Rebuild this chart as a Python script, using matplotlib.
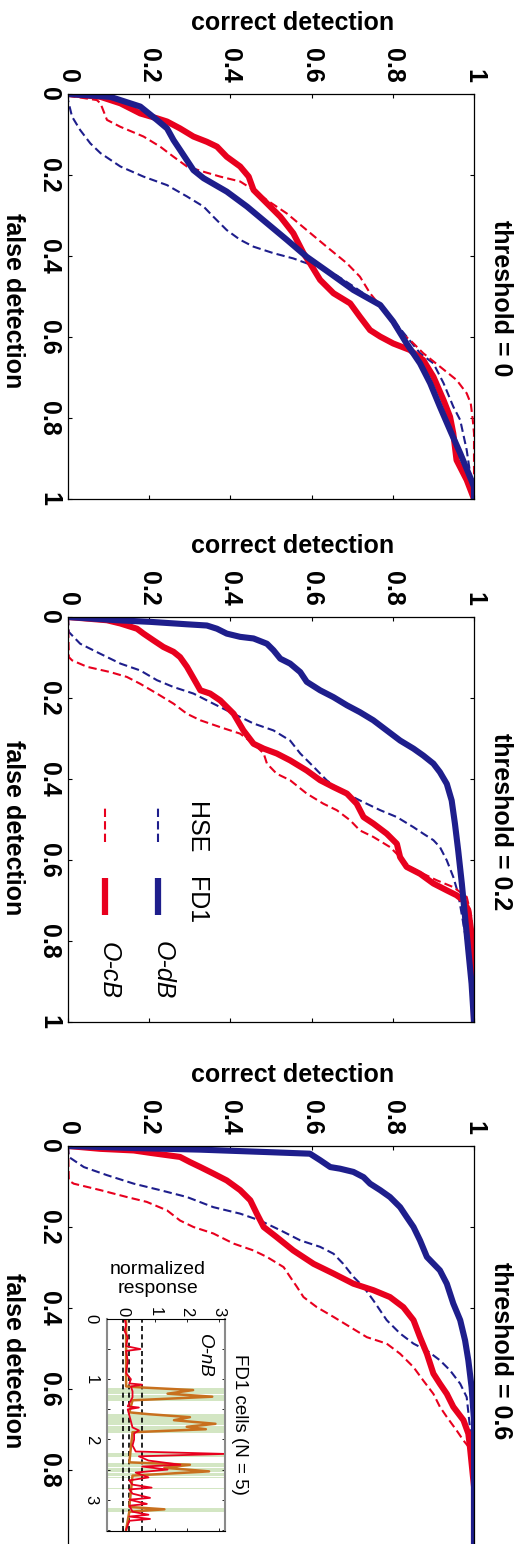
import numpy as np
import matplotlib.pyplot as plt

plt.rcParams['font.family'] = ['Liberation Sans', 'DejaVu Sans']

BLUE = '#1e1e8c'
RED = '#e8001e'
ORANGE = '#c8701e'
GREEN = '#d3e6c3'

################################################################################
# ROC data (false detection, correct detection), one panel per threshold
################################################################################
thresholds = ['0', '0.2', '0.6']

# threshold = 0
t0_fd1_odb_false = [0, 0.007, 0.031, 0.064, 0.085, 0.114, 0.138, 0.188, 0.208, 0.241, 0.278, 0.319, 0.360, 0.402, 0.443,
                    0.484, 0.521, 0.562, 0.616, 0.665, 0.714, 0.772, 0.830, 0.887, 0.945, 0.970, 1.0]
t0_fd1_odb_correct = [0, 0.104, 0.178, 0.219, 0.244, 0.260, 0.276, 0.309, 0.334, 0.391, 0.441, 0.490, 0.539, 0.588, 0.646,
                      0.703, 0.769, 0.801, 0.834, 0.867, 0.892, 0.916, 0.941, 0.966, 0.990, 1.0, 1.0]
t0_fd1_ocb_false = [0, 0.007, 0.023, 0.048, 0.060, 0.068, 0.085, 0.105, 0.118, 0.130, 0.155, 0.179, 0.204, 0.237, 0.270,
                    0.303, 0.344, 0.393, 0.418, 0.459, 0.492, 0.517, 0.550, 0.583, 0.599, 0.616, 0.632, 0.657, 0.698,
                    0.756, 0.797, 0.838, 0.904, 0.953, 1.0]
t0_fd1_ocb_correct = [0, 0.080, 0.129, 0.178, 0.219, 0.244, 0.276, 0.309, 0.342, 0.367, 0.391, 0.424, 0.445, 0.457, 0.490,
                      0.523, 0.555, 0.580, 0.596, 0.621, 0.654, 0.695, 0.719, 0.744, 0.769, 0.801, 0.842, 0.875, 0.900,
                      0.925, 0.941, 0.949, 0.957, 0.982, 1.0]
t0_hse_odb_false = [0, 0.015, 0.056, 0.089, 0.122, 0.146, 0.179, 0.204, 0.225, 0.253, 0.278, 0.303, 0.336, 0.360, 0.377,
                    0.393, 0.406, 0.418, 0.426, 0.443, 0.475, 0.509, 0.558, 0.599, 0.640, 0.665, 0.714, 0.772, 0.805,
                    0.879, 0.961, 1.0]
t0_hse_odb_correct = [0, 0, 0.010, 0.030, 0.055, 0.080, 0.129, 0.186, 0.244, 0.293, 0.334, 0.358, 0.391, 0.424, 0.457,
                      0.506, 0.555, 0.588, 0.621, 0.654, 0.703, 0.752, 0.801, 0.834, 0.867, 0.900, 0.925, 0.949, 0.966,
                      0.982, 0.994, 1.0]
t0_hse_ocb_false = [0, 0.005, 0.015, 0.023, 0.064, 0.081, 0.105, 0.130, 0.155, 0.179, 0.192, 0.204, 0.216, 0.237, 0.262,
                    0.295, 0.336, 0.377, 0.418, 0.451, 0.492, 0.533, 0.583, 0.607, 0.640, 0.673, 0.706, 0.739, 0.764,
                    0.805, 0.838, 1.0]
t0_hse_ocb_correct = [0, 0.006, 0.071, 0.080, 0.096, 0.129, 0.186, 0.227, 0.260, 0.293, 0.334, 0.375, 0.424, 0.457, 0.490,
                      0.539, 0.588, 0.637, 0.687, 0.719, 0.744, 0.777, 0.810, 0.842, 0.875, 0.916, 0.957, 0.982, 0.992,
                      0.997, 1.0, 1.0]

# threshold = 0.2
t2_fd1_odb_false = [0, 0.008, 0.012, 0.018, 0.021, 0.029, 0.041, 0.049, 0.053, 0.066, 0.082, 0.103, 0.115, 0.136, 0.160,
                    0.181, 0.198, 0.218, 0.235, 0.255, 0.280, 0.305, 0.325, 0.342, 0.362, 0.383, 0.412, 0.453, 0.510,
                    0.576, 0.658, 0.741, 0.823, 0.905, 1.0]
t2_fd1_odb_correct = [0, 0.121, 0.203, 0.293, 0.342, 0.367, 0.391, 0.424, 0.457, 0.490, 0.506, 0.523, 0.547, 0.572, 0.588,
                      0.621, 0.654, 0.687, 0.719, 0.752, 0.785, 0.818, 0.851, 0.875, 0.900, 0.916, 0.933, 0.945, 0.953,
                      0.961, 0.970, 0.978, 0.986, 0.994, 1.0]
t2_fd1_ocb_false = [0, 0.008, 0.016, 0.029, 0.041, 0.058, 0.074, 0.086, 0.099, 0.123, 0.165, 0.181, 0.189, 0.206, 0.222,
                    0.239, 0.280, 0.313, 0.325, 0.337, 0.354, 0.379, 0.403, 0.420, 0.436, 0.461, 0.494, 0.510, 0.535,
                    0.560, 0.593, 0.617, 0.634, 0.658, 0.675, 0.687, 0.700, 0.724, 0.782, 0.864, 1.0]
t2_fd1_ocb_correct = [0, 0.096, 0.129, 0.170, 0.186, 0.211, 0.235, 0.260, 0.276, 0.293, 0.317, 0.326, 0.350, 0.375, 0.391,
                      0.408, 0.432, 0.457, 0.482, 0.514, 0.547, 0.588, 0.621, 0.654, 0.687, 0.711, 0.728, 0.752, 0.785,
                      0.810, 0.818, 0.834, 0.867, 0.900, 0.933, 0.957, 0.974, 0.986, 0.994, 0.998, 1.0]
t2_hse_odb_false = [0, 0.037, 0.066, 0.091, 0.115, 0.132, 0.156, 0.173, 0.189, 0.214, 0.239, 0.263, 0.280, 0.305, 0.337,
                    0.370, 0.403, 0.428, 0.453, 0.477, 0.494, 0.519, 0.535, 0.551, 0.568, 0.601, 0.642, 0.683, 0.782,
                    0.881, 1.0]
t2_hse_odb_correct = [0, 0.002, 0.030, 0.080, 0.129, 0.178, 0.219, 0.260, 0.309, 0.358, 0.408, 0.457, 0.506, 0.547, 0.572,
                      0.605, 0.637, 0.670, 0.719, 0.769, 0.810, 0.851, 0.875, 0.900, 0.916, 0.933, 0.949, 0.961, 0.978,
                      0.990, 1.0]
t2_hse_ocb_false = [0, 0.099, 0.107, 0.123, 0.136, 0.148, 0.165, 0.189, 0.214, 0.239, 0.255, 0.272, 0.288, 0.313, 0.337,
                    0.362, 0.387, 0.403, 0.436, 0.461, 0.477, 0.502, 0.527, 0.543, 0.568, 0.593, 0.617, 0.634, 0.650,
                    0.667, 0.691, 0.741, 1.0]
t2_hse_ocb_correct = [0, 0.002, 0.010, 0.047, 0.104, 0.145, 0.178, 0.219, 0.260, 0.293, 0.326, 0.375, 0.424, 0.457, 0.482,
                      0.490, 0.514, 0.547, 0.588, 0.629, 0.662, 0.695, 0.719, 0.752, 0.793, 0.818, 0.842, 0.875, 0.908,
                      0.949, 0.982, 0.994, 1.0]

# threshold = 0.6
t6_fd1_odb_false = [0, 0.005, 0.009, 0.015, 0.019, 0.035, 0.052, 0.056, 0.064, 0.077, 0.093, 0.109, 0.126, 0.151, 0.175,
                    0.200, 0.233, 0.274, 0.307, 0.340, 0.389, 0.430, 0.480, 0.529, 0.595, 0.677, 1.0]
t6_fd1_odb_correct = [0, 0.162, 0.326, 0.490, 0.596, 0.621, 0.646, 0.670, 0.703, 0.728, 0.744, 0.769, 0.793, 0.818, 0.834,
                      0.851, 0.867, 0.884, 0.916, 0.933, 0.949, 0.966, 0.978, 0.986, 0.994, 1.0, 1.0]
t6_fd1_ocb_false = [0, 0.007, 0.011, 0.017, 0.027, 0.040, 0.052, 0.068, 0.085, 0.109, 0.134, 0.167, 0.200, 0.225, 0.258,
                    0.291, 0.315, 0.340, 0.356, 0.373, 0.398, 0.430, 0.472, 0.513, 0.562, 0.587, 0.612, 0.644, 0.677,
                    0.710, 0.743, 0.842, 1.0]
t6_fd1_ocb_correct = [0, 0.080, 0.162, 0.203, 0.276, 0.301, 0.326, 0.358, 0.391, 0.424, 0.449, 0.465, 0.482, 0.514, 0.555,
                      0.605, 0.654, 0.703, 0.752, 0.793, 0.826, 0.851, 0.867, 0.884, 0.900, 0.916, 0.933, 0.949, 0.974,
                      0.986, 0.990, 1.0, 1.0]
t6_hse_odb_false = [0, 0.027, 0.052, 0.072, 0.093, 0.109, 0.126, 0.151, 0.167, 0.184, 0.208, 0.233, 0.249, 0.266, 0.291,
                    0.323, 0.348, 0.381, 0.430, 0.463, 0.488, 0.505, 0.529, 0.554, 0.587, 0.620, 0.694, 0.760, 1.0]
t6_hse_odb_correct = [0, 0.002, 0.039, 0.096, 0.162, 0.227, 0.293, 0.358, 0.424, 0.473, 0.523, 0.572, 0.621, 0.654, 0.678,
                      0.703, 0.728, 0.752, 0.785, 0.818, 0.851, 0.884, 0.916, 0.941, 0.966, 0.982, 0.990, 1.0, 1.0]
t6_hse_ocb_false = [0, 0.085, 0.093, 0.109, 0.126, 0.138, 0.159, 0.184, 0.200, 0.216, 0.241, 0.258, 0.274, 0.299, 0.323,
                    0.348, 0.373, 0.398, 0.422, 0.447, 0.472, 0.488, 0.513, 0.546, 0.579, 0.612, 0.644, 0.669, 0.702,
                    0.727, 0.747, 0.776, 1.0]
t6_hse_ocb_correct = [0, 0.002, 0.014, 0.080, 0.145, 0.194, 0.244, 0.276, 0.309, 0.358, 0.408, 0.457, 0.490, 0.531, 0.547,
                      0.564, 0.580, 0.613, 0.654, 0.695, 0.736, 0.785, 0.818, 0.851, 0.875, 0.900, 0.916, 0.933, 0.957,
                      0.974, 0.990, 1.0, 1.0]

roc_ticks = [0, 0.2, 0.4, 0.6, 0.8, 1]
roc_ticklabels = ['0', '0.2', '0.4', '0.6', '0.8', '1']

# inset: normalized response of FD1 cells over time
inset_time_ticks = [0, 1, 2, 3]
inset_resp_ticks = [0, 1, 2, 3]
inset_thresholds = [0, 0.2, 0.6]
response_bands = [(1.15, 1.25), (1.26, 1.36), (1.57, 1.67), (1.68, 1.76), (1.77, 1.89), (2.23, 2.29),
                  (2.39, 2.46), (2.47, 2.54), (2.55, 2.60), (2.62, 2.64), (2.80, 2.83), (3.14, 3.21)]
orange_time = [0, 1.12, 1.14, 1.18, 1.24, 1.29, 1.35, 1.55, 1.58, 1.63, 1.68, 1.74, 1.79, 1.83, 1.88, 2.38, 2.42,
               2.47, 2.53, 2.60, 3.12, 3.16, 3.20, 3.50]
orange_resp = [0.1, 0.1, 0.7, 2.2, 1.4, 2.8, 0.3, 0.2, 0.8, 2.1, 1.6, 2.9, 2.0, 2.6, 0.3, 0.2, 2.1,
               1.3, 2.7, 0.3, 0.2, 1.3, 0.2, 0.1]
red_time = [0, 0.1, 0.2, 0.3, 0.45, 0.5, 0.53, 0.7, 0.9, 1.0, 1.07, 1.09, 1.12, 1.2, 1.3, 1.4, 1.45, 1.47, 1.5, 1.6,
            1.7, 1.8, 1.85, 1.9, 2.0, 2.1, 2.2, 2.24, 2.28, 2.35, 2.42, 2.45, 2.5, 2.55, 2.63, 2.68, 2.75, 2.8, 2.83,
            2.9, 2.97, 3.0, 3.07, 3.1, 3.2, 3.25, 3.28, 3.32, 3.35, 3.5]
red_resp = [0.05, 0.1, 0.05, 0.15, 0.1, 0.55, 0.1, 0.15, 0.1, 0.25, 0.2, 0.6, 0.25, 0.3, 0.3, 0.2, 0.15, 0.5, 0.15, 0.2,
            0.25, 0.3, 0.5, 0.35, 0.35, 0.3, 0.4, 3.2, 0.5, 0.8, 1.8, 0.6, 1.4, 0.4, 0.8, 0.2, 0.3, 0.9, 0.2,
            0.3, 0.85, 0.2, 0.75, 0.2, 0.3, 0.8, 0.2, 0.85, 0.2, 0.1]

panels = [
    (t0_fd1_odb_false, t0_fd1_odb_correct, t0_fd1_ocb_false, t0_fd1_ocb_correct,
     t0_hse_odb_false, t0_hse_odb_correct, t0_hse_ocb_false, t0_hse_ocb_correct),
    (t2_fd1_odb_false, t2_fd1_odb_correct, t2_fd1_ocb_false, t2_fd1_ocb_correct,
     t2_hse_odb_false, t2_hse_odb_correct, t2_hse_ocb_false, t2_hse_ocb_correct),
    (t6_fd1_odb_false, t6_fd1_odb_correct, t6_fd1_ocb_false, t6_fd1_ocb_correct,
     t6_hse_odb_false, t6_hse_odb_correct, t6_hse_ocb_false, t6_hse_ocb_correct),
]

################################################################################
# figure, drawn turned a quarter clockwise (false detection runs downwards)
################################################################################
W, H = 523, 1544
fig = plt.figure(figsize=(W / 100, H / 100), dpi=100)


def px_axes(left, top, width, height):
    return fig.add_axes([left / W, 1 - (top + height) / H, width / W, height / H])


tops = [94, 617, 1146]
label_y = [0.49, 0.48, 0.47]
axes = []
for i, top in enumerate(tops):
    f_odb, c_odb, f_ocb, c_ocb, hf_odb, hc_odb, hf_ocb, hc_ocb = panels[i]
    ax = px_axes(68, top, 406, 405)
    ax.plot(hc_odb, hf_odb, color=BLUE, lw=1.5, dashes=(4, 2))
    ax.plot(hc_ocb, hf_ocb, color=RED, lw=1.5, dashes=(4, 2))
    ax.plot(c_ocb, f_ocb, color=RED, lw=4.4, solid_joinstyle='round')
    ax.plot(c_odb, f_odb, color=BLUE, lw=4.4, solid_joinstyle='round')

    ax.set_xlim(0, 1)
    ax.set_ylim(1, 0)
    ax.set_xticks(roc_ticks)
    ax.set_yticks(roc_ticks)
    ax.set_xticklabels(roc_ticklabels, rotation=-90, fontsize=18, fontweight='bold')
    ax.set_yticklabels(roc_ticklabels, rotation=-90, fontsize=18, fontweight='bold', va='center')
    ax.tick_params(direction='in', length=3, width=0.8, top=True, bottom=True, left=True, right=True,
                   labeltop=True, labelbottom=False, labelleft=True, labelright=False)
    ax.tick_params(axis='x', pad=8)
    ax.tick_params(axis='y', pad=5)
    for s in ax.spines.values():
        s.set_linewidth(0.9)

    ax.text(0.552, 1.175, 'correct detection', transform=ax.transAxes, ha='center', va='center',
            fontsize=18, fontweight='bold')
    ax.text(-0.135, label_y[i], 'false detection', transform=ax.transAxes, ha='center', va='center',
            rotation=-90, fontsize=18, fontweight='bold')
    ax.text(1.066, 0.495, 'threshold = ' + thresholds[i], transform=ax.transAxes, ha='center', va='center',
            rotation=-90, fontsize=18, fontweight='bold')
    axes.append(ax)

# hand-made legend in the middle panel (HSE dashed, FD1 thick)
ax = axes[1]
for x, col, name in [(0.222, BLUE, 'O-dB'), (0.090, RED, 'O-cB')]:
    ax.plot([x, x], [0.444, 0.536], color=col, lw=1.5, dashes=(4, 2), transform=ax.transAxes, clip_on=False)
    ax.plot([x, x], [0.264, 0.356], color=col, lw=4.5, solid_capstyle='butt', transform=ax.transAxes, clip_on=False)
    ax.text(x + 0.01, 0.128, name, transform=ax.transAxes, ha='center', va='center', rotation=-90,
            fontsize=18, style='italic')
ax.text(0.315, 0.481, 'HSE', transform=ax.transAxes, ha='center', va='center', rotation=-90, fontsize=18)
ax.text(0.315, 0.301, 'FD1', transform=ax.transAxes, ha='center', va='center', rotation=-90, fontsize=18)

################################################################################
# inset in the last panel
################################################################################
ins = px_axes(107, 1319, 118, 212)
for a, b in response_bands:
    ins.axhspan(a, b, color=GREEN, lw=0)
for v in inset_thresholds:
    ins.axvline(v, color='k', lw=1.2, dashes=(3, 2))
ins.plot(orange_resp, orange_time, color=ORANGE, lw=1.8)
ins.plot(red_resp, red_time, color=RED, lw=1.3)
ins.set_xlim(-0.5, 3.2)
ins.set_ylim(3.52, 0)
ins.set_xticks(inset_resp_ticks)
ins.set_xticklabels([str(t) for t in inset_resp_ticks], rotation=-90, fontsize=12)
ins.set_yticks(np.arange(0, 3.6, 0.5))
ins.set_yticklabels(['0', '', '1', '', '2', '', '3', ''], rotation=-90, fontsize=12, va='center')
ins.tick_params(direction='in', length=2.5, width=0.6, top=True, bottom=True, left=True, right=True,
                labeltop=True, labelbottom=False, labelleft=True, labelright=False)
ins.tick_params(axis='x', pad=2)
ins.tick_params(axis='y', pad=6)
ins.spines['left'].set_color('#8a8a8a')
ins.spines['right'].set_color('#8a8a8a')
ins.spines['left'].set_linewidth(1.5)
ins.spines['right'].set_linewidth(1.5)
ins.text(0.43, 1.19, 'normalized\nresponse', transform=ins.transAxes, ha='center', va='center', fontsize=14,
         linespacing=1.15)
ins.text(1.127, 0.505, 'FD1 cells (N = 5)', transform=ins.transAxes, ha='center', va='center',
         rotation=-90, fontsize=13.5)
ins.text(0.83, 0.825, 'O-nB', transform=ins.transAxes, ha='center', va='center', rotation=-90,
         fontsize=13.5, style='italic')

plt.savefig('out.png', dpi=100)
